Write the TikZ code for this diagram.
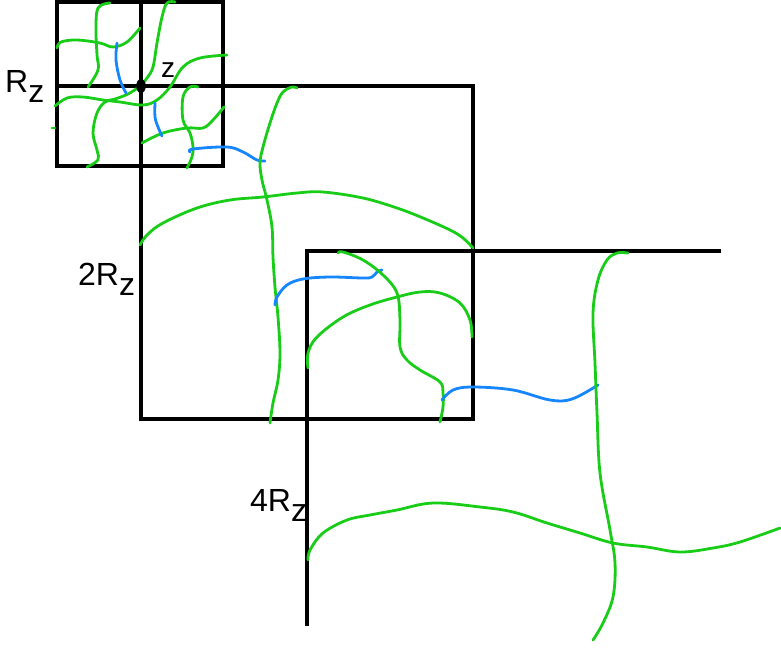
\documentclass[tikz,border=0pt]{standalone}
\usepackage{fontspec}
\setmainfont{Liberation Sans}
\usetikzlibrary{shapes.geometric}
\definecolor{path}{RGB}{24,204,24}
\definecolor{link}{RGB}{22,134,255}
\newcommand\Rsub{R\raisebox{-10pt}{z}}
\begin{document}
\begin{tikzpicture}[x=1pt,y=-1pt,
  frame/.style={black,line width=3.1pt},
  crossing/.style={path,line width=2.8pt,line cap=round,line join=round},
  bridge/.style={link,line width=2.8pt,line cap=round,line join=round},
  label/.style={inner sep=0pt,anchor=base west,font=\fontsize{32}{38}\selectfont},
  smalllabel/.style={inner sep=0pt,anchor=base west,font=\fontsize{28}{33}\selectfont}]
\useasboundingbox (0,0) rectangle (781,649);

% boxes of side R, 2R and 4R
\draw[frame] (57,2) rectangle (223,166);
\draw[frame] (141,2) -- (141,419) -- (473,419) -- (473,86) -- (57,86);
\draw[frame] (721,251) -- (307,251) -- (307,626);

% open crossings inside the smallest box
\draw[crossing] plot[smooth,tension=0.6] coordinates {(110,3) (98,8) (96,30) (97,55) (98,70) (88,87)};
\draw[crossing] plot[smooth,tension=0.6] coordinates {(57,48) (61,42) (77,40) (100,43) (113,47) (127,42) (140,28)};
\draw[crossing] plot[smooth,tension=0.6] coordinates {(175,2) (167,3) (162,17) (157,43) (153,67) (147,78) (140,86) (128,94) (115,99) (105,102) (97,113) (93,133) (97,150) (98,160) (87,167)};
\draw[crossing] plot[smooth,tension=0.6] coordinates {(227,55) (200,58) (183,67) (170,87) (157,100) (143,105) (120,102) (103,100) (83,97) (67,98) (55,106)};
\draw[crossing] plot[smooth,tension=0.6] coordinates {(224,107) (213,120) (203,128) (187,128) (163,133) (142,143)};
\draw[crossing] plot[smooth,tension=0.6] coordinates {(198,87) (190,87) (183,97) (183,120) (190,133) (193,147) (192,157) (187,168)};
\draw[crossing] (52,128) -- (55,128);
\draw[bridge] plot[smooth,tension=0.6] coordinates {(117,43) (116,60) (120,80) (126,93)};
\draw[bridge] plot[smooth,tension=0.6] coordinates {(155,103) (155,117) (158,127) (162,136)};
\draw[bridge] plot[smooth,tension=0.6] coordinates {(190,152) (193,149) (227,147) (243,152) (257,160) (265,161)};

% crossings of the middle box
\draw[crossing] plot[smooth,tension=0.6] coordinates {(297,88) (292,87) (283,92) (277,103) (270,123) (263,147) (260,163) (262,180) (267,200) (272,227) (273,257) (275,287) (278,317) (280,353) (278,380) (273,403) (270,423)};
\draw[crossing] plot[smooth,tension=0.6] coordinates {(140,245) (147,235) (163,223) (197,208) (230,200) (263,197) (297,193) (323,192) (363,198) (397,208) (423,218) (450,230) (463,238) (473,248)};
\draw[bridge] plot[smooth,tension=0.6] coordinates {(275,305) (277,297) (287,285) (303,279) (330,277) (363,278) (372,277) (377,272) (382,270)};
\draw[crossing] plot[smooth,tension=0.6] coordinates {(338,253) (343,252) (363,260) (383,275) (397,293) (400,320) (400,347) (407,360) (420,370) (440,382) (443,393) (443,407) (440,422)};
\draw[crossing] plot[smooth,tension=0.6] coordinates {(308,368) (308,353) (317,337) (343,317) (370,305) (397,297) (420,292) (440,293) (460,303) (470,320) (472,337)};
\draw[bridge] plot[smooth,tension=0.6] coordinates {(442,400) (453,390) (473,387) (513,390) (550,400) (572,399) (598,385)};

% crossings of the largest box
\draw[crossing] plot[smooth,tension=0.6] coordinates {(628,253) (617,253) (607,260) (598,280) (593,313) (595,363) (597,413) (600,473) (610,530) (615,563) (613,597) (603,623) (593,640)};
\draw[crossing] plot[smooth,tension=0.6] coordinates {(308,560) (310,550) (323,533) (347,520) (370,515) (397,510) (433,503) (480,507) (513,512) (547,523) (580,533) (613,543) (647,547) (680,552) (713,548) (740,542) (780,528)};

% the point z and the scale labels
\node[draw,fill,ellipse,minimum width=9pt,minimum height=14pt,inner sep=0pt] (zpt) at (141,86) {};
\node[smalllabel] (zlab) at (161,77) {z};
\node[label] (r1) at (5,92) {\Rsub};
\node[label] (r2) at (78,285) {2\Rsub};
\node[label] (r4) at (250,511) {4\Rsub};
\end{tikzpicture}
\end{document}
